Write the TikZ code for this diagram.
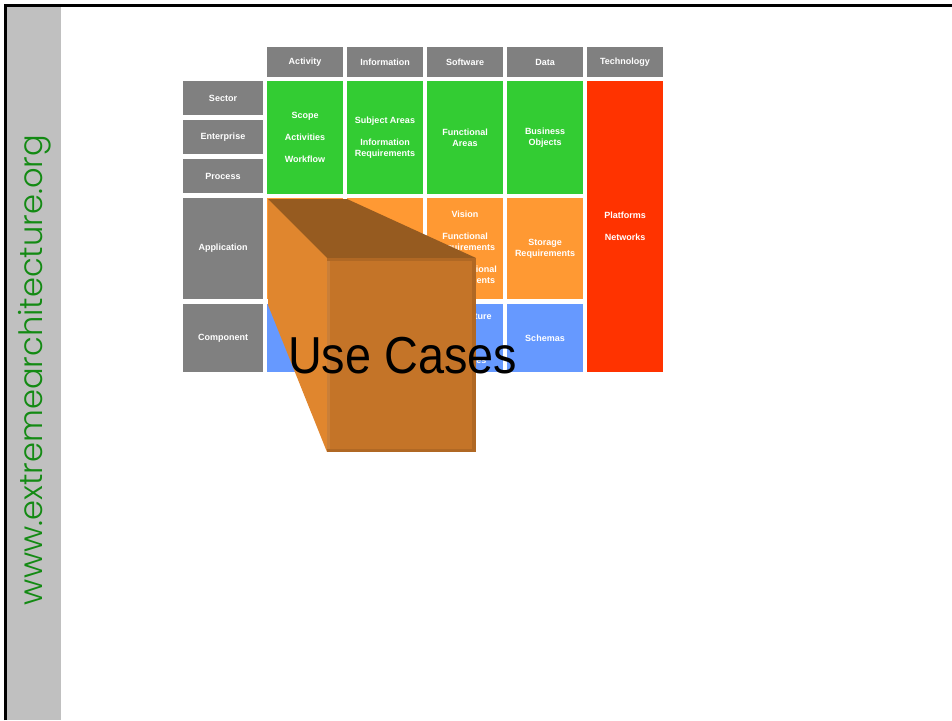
\documentclass[tikz,border=0pt]{standalone}
\usepackage{fontspec}
\setmainfont{Liberation Sans}
\newfontfamily\urlfont{Poppins}[UprightFont={* Light}]
\definecolor{cellgray}{HTML}{808080}
\definecolor{cellgreen}{HTML}{33CC33}
\definecolor{cellorange}{HTML}{FF9933}
\definecolor{cellblue}{HTML}{6699FF}
\definecolor{cellred}{HTML}{FF3300}
\definecolor{stripgray}{HTML}{C0C0C0}
\definecolor{urlgreen}{HTML}{138A13}
\definecolor{boxleft}{HTML}{E0862E}
\definecolor{boxtop}{HTML}{965B20}
\definecolor{boxfront}{HTML}{C47428}
\tikzset{
  cell/.style={rectangle, inner sep=0pt, text=white, align=center,
    font=\fontsize{9}{11}\selectfont\bfseries},
  hdr/.style={cell, fill=cellgray, minimum width=76, minimum height=30},
  rowlbl/.style={cell, fill=cellgray, minimum width=80},
}
\begin{document}
\begin{tikzpicture}[x=1pt, y=-1pt]
\useasboundingbox (0,0) rectangle (952,720);
% frame and side strip
\fill [stripgray] (7,7) rectangle (61,720);
\draw [line width=3] (5.5,720)--(5.5,5.5)--(952,5.5);
\node [rotate=90, text=urlgreen] (url) at (35,370)
  {\resizebox{470pt}{!}{\urlfont www.extremearchitecture.org}};
% column heads
\node [hdr] (activity) at (305,62) {Activity};
\node [hdr] (information) at (385,62) {Information};
\node [hdr] (software) at (465,62) {Software};
\node [hdr] (data) at (545,62) {Data};
\node [hdr] (technology) at (625,62) {Technology};
% row heads
\node [rowlbl, minimum height=34] (sector) at (223,98) {Sector};
\node [rowlbl, minimum height=34] (enterprise) at (223,137) {Enterprise};
\node [rowlbl, minimum height=34] (process) at (223,176) {Process};
\node [rowlbl, minimum height=101] (application) at (223,248.5) {Application};
\node [rowlbl, minimum height=68] (component) at (223,338) {Component};
% business rows
\node [cell, fill=cellgreen, minimum width=76, minimum height=113] (scope) at (305,137.5)
  {Scope\\[11pt]Activities\\[11pt]Workflow};
\node [cell, fill=cellgreen, minimum width=76, minimum height=113] (subject) at (385,137.5)
  {Subject Areas\\[11pt]Information\\Requirements};
\node [cell, fill=cellgreen, minimum width=76, minimum height=113] (areas) at (465,137.5)
  {Functional\\Areas};
\node [cell, fill=cellgreen, minimum width=76, minimum height=113] (objects) at (545,137.5)
  {Business\\Objects};
% application row
\node [cell, fill=cellorange, minimum width=76, minimum height=101] (appact) at (305,248.5) {};
\node [cell, fill=cellorange, minimum width=76, minimum height=101] (appinfo) at (385,248.5) {};
\node [cell, fill=cellorange, minimum width=76, minimum height=101] (vision) at (465,248.5)
  {Vision\\[11pt]Functional\\Requirements\\[11pt]Non-functional\\Requirements};
\node [cell, fill=cellorange, minimum width=76, minimum height=101] (storage) at (545,248.5)
  {Storage\\Requirements};
% component row
\node [cell, fill=cellblue, minimum width=76, minimum height=68] (compact) at (305,338) {};
\node [cell, fill=cellblue, minimum width=76, minimum height=68] (compinfo) at (385,338) {};
\node [cell, fill=cellblue, minimum width=76, minimum height=68] (architecture) at (465,338)
  {Architecture\\[11pt]Code\\[11pt]Interfaces};
\node [cell, fill=cellblue, minimum width=76, minimum height=68] (schemas) at (545,338) {Schemas};
% technology column
\node [cell, fill=cellred, minimum width=76, minimum height=291] (platforms) at (625,226.5)
  {Platforms\\[11pt]Networks};
% the box
\fill [boxleft] (268,199)--(327,258)--(327,452)--(268,305)--cycle;
\fill [boxtop] (268,199)--(347,199)--(476,258)--(327,258)--cycle;
\fill [boxfront] (327,258) rectangle (476,452);
\fill [boxfront!92!white] (327,258) rectangle (330,452);
\fill [boxfront!90!black] (472,258) rectangle (476,452);
\fill [boxfront!90!black] (327,258) rectangle (476,261);
\fill [boxfront!90!black] (327,449) rectangle (476,452);
\node [inner sep=0pt] (usecases) at (402.5,355.5)
  {\scalebox{0.9}[1]{\fontsize{52}{60}\selectfont Use Cases}};
\end{tikzpicture}
\end{document}
